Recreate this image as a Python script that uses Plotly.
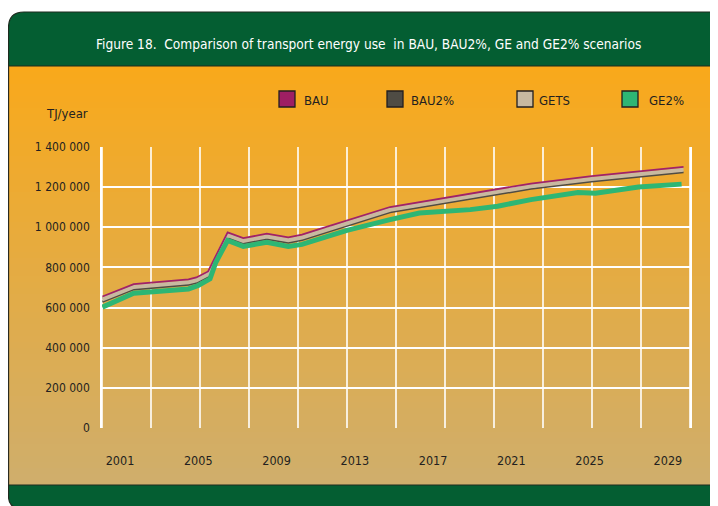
import plotly.graph_objects as go

# ---------------- data ----------------
years_bau = [2000.1, 2001.7, 2004.5, 2004.9, 2005.5, 2006.0, 2006.5, 2007.3, 2008.5,
             2009.6, 2010.3, 2011.1, 2014.8, 2022.0, 2025.1, 2029.8]
bau = [655000, 717000, 740000, 750000, 780000, 875000, 975000, 946000, 968000,
       950000, 963000, 988000, 1101000, 1218000, 1255000, 1301000]
gets = [641000, 703000, 726000, 736000, 766000, 861000, 961000, 932000, 954000,
        936000, 949000, 974000, 1087000, 1204000, 1241000, 1287000]
bau2 = [629000, 691000, 714000, 724000, 754000, 849000, 949000, 920000, 942000,
        924000, 937000, 962000, 1075000, 1192000, 1229000, 1275000]

years_ge2 = [2000.1, 2001.7, 2004.5, 2005.0, 2005.6, 2005.9, 2006.5, 2007.3, 2008.5,
             2009.6, 2010.3, 2011.1, 2012.6, 2014.8, 2016.3, 2018.9, 2020.3, 2022.0,
             2024.4, 2025.3, 2027.5, 2029.7]
ge2 = [602000, 671000, 693000, 710000, 743000, 826000, 935000, 905000, 925000,
       905000, 915000, 938000, 985000, 1038000, 1071000, 1088000, 1105000, 1138000,
       1173000, 1170000, 1201000, 1215000]

x_ticks = [2001, 2005, 2009, 2013, 2017, 2021, 2025, 2029]
x_tick_labels = ["2001", "2005", "2009", "2013", "2017", "2021", "2025", "2029"]
y_ticks = [0, 200000, 400000, 600000, 800000, 1000000, 1200000, 1400000]

series_names = ["BAU", "BAU2%", "GETS", "GE2%"]
series_colors = ["#9E1F63", "#4F4C44", "#C8B9A0", "#2DB674"]

title = "Figure 18.  Comparison of transport energy use  in BAU, BAU2%, GE and GE2% scenarios"

# ---------------- layout helpers ----------------
W, H = 718, 506
OFF = 8  # page offset of the plot div
FONT = "DejaVu Sans Condensed, sans-serif"
DARK = "#231F20"


def px(x):
    return (x - OFF) / W


def py(y):
    return 1 - (y - OFF) / H


fig = go.Figure()

fig.add_trace(go.Scatter(x=years_bau, y=bau2, mode="lines", name="BAU2%",
                         line=dict(color="#4F4C44", width=2.2), showlegend=False))
fig.add_trace(go.Scatter(x=years_bau, y=gets, mode="lines", name="GETS",
                         line=dict(color="#C8B9A0", width=4), showlegend=False))
fig.add_trace(go.Scatter(x=years_bau, y=bau, mode="lines", name="BAU",
                         line=dict(color="#A0226A", width=1.8), showlegend=False))
fig.add_trace(go.Scatter(x=years_ge2, y=ge2, mode="lines", name="GE2%",
                         line=dict(color="#2DB674", width=5), showlegend=False))

shapes = []

# background gradient (orange -> tan); each band extends to the bottom to avoid seams
top_c = (249, 169, 27)
bot_c = (207, 174, 108)
y0, y1 = 66, 486
n = 70
for i in range(n):
    t = i / (n - 1)
    c = tuple(round(top_c[k] + (bot_c[k] - top_c[k]) * t) for k in range(3))
    ya = y0 + (y1 - y0) * i / n
    shapes.append(dict(type="rect", xref="paper", yref="paper", layer="below",
                       x0=px(8), x1=px(730), y0=py(ya), y1=py(y1),
                       fillcolor="rgb(%d,%d,%d)" % c, line=dict(width=0)))

# header green band with rounded top-left corner
hdr = ("M %f,%f L %f,%f Q %f,%f %f,%f L %f,%f L %f,%f Z" % (
    px(8.5), py(66), px(8.5), py(28), px(8.5), py(12), px(24), py(12),
    px(730), py(12), px(730), py(66)))
shapes.append(dict(type="path", xref="paper", yref="paper", layer="below", path=hdr,
                   fillcolor="#045E32", line=dict(color="#1E2A1E", width=1.2)))
# bottom green band with rounded bottom-left corner
bot = ("M %f,%f L %f,%f L %f,%f L %f,%f Q %f,%f %f,%f Z" % (
    px(8.5), py(485), px(730), py(485), px(730), py(508), px(20), py(508),
    px(8.5), py(508), px(8.5), py(496)))
shapes.append(dict(type="path", xref="paper", yref="paper", layer="below", path=bot,
                   fillcolor="#045E32", line=dict(color="#1E2A1E", width=1.2)))
# left dark border of the orange area
shapes.append(dict(type="line", xref="paper", yref="paper", layer="below",
                   x0=px(8.5), x1=px(8.5), y0=py(66), y1=py(485),
                   line=dict(color="#2A2A20", width=1.3)))

# plot area geometry (screen pixels)
PL, PR, PT, PB = 102, 690, 147, 428
# vertical white grid lines (12 equal intervals)
for i in range(13):
    xx = PL + (PR - PL) * i / 12
    shapes.append(dict(type="line", xref="paper", yref="paper", layer="below",
                       x0=px(xx), x1=px(xx), y0=py(PT), y1=py(PB),
                       line=dict(color="white", width=1.6)))

# manual legend
legend_x = [279, 387, 517, 622]
legend_tx = [302, 409, 537, 647]
annotations = []
for name, col, lx, tx in zip(series_names, series_colors, legend_x, legend_tx):
    shapes.append(dict(type="rect", xref="paper", yref="paper",
                       x0=px(lx), x1=px(lx + 16), y0=py(91), y1=py(107),
                       fillcolor=col, line=dict(color=DARK, width=1.3)))
    annotations.append(dict(xref="paper", yref="paper", x=px(tx), y=py(100),
                            text=name, showarrow=False, xanchor="left", yanchor="middle",
                            font=dict(family=FONT, size=13, color=DARK)))

annotations.append(dict(xref="paper", yref="paper", x=px(368), y=py(44), text=title,
                        showarrow=False, xanchor="center", yanchor="middle",
                        font=dict(family=FONT, size=13.6, color="white")))
annotations.append(dict(xref="paper", yref="paper", x=px(67), y=py(113), text="TJ/year",
                        showarrow=False, xanchor="center", yanchor="middle",
                        font=dict(family=FONT, size=13, color=DARK)))

fig.update_layout(
    template="none",
    width=W, height=H,
    margin=dict(l=0, r=0, t=0, b=0, pad=0),
    paper_bgcolor="white",
    plot_bgcolor="rgba(0,0,0,0)",
    separators=". ",
    showlegend=False,
    shapes=shapes,
    annotations=annotations,
    xaxis=dict(domain=[px(PL), px(PR)], range=[2000.08, 2030.13],
               tickmode="array", tickvals=x_ticks, ticktext=x_tick_labels,
               showgrid=False, zeroline=False, ticks="", automargin=False,
               showline=False, ticklabelstandoff=23,
               tickfont=dict(family=FONT, size=12.5, color=DARK)),
    yaxis=dict(domain=[py(PB), py(PT)], range=[0, 1400000],
               tickmode="array", tickvals=y_ticks, tickformat=",d",
               showgrid=True, gridcolor="white", gridwidth=1.6,
               zeroline=False, ticks="", automargin=False,
               showline=True, linecolor="white", linewidth=1.6, mirror=True,
               ticklabelstandoff=8,
               tickfont=dict(family=FONT, size=12, color=DARK)),
)

fig.write_html("out.html")
